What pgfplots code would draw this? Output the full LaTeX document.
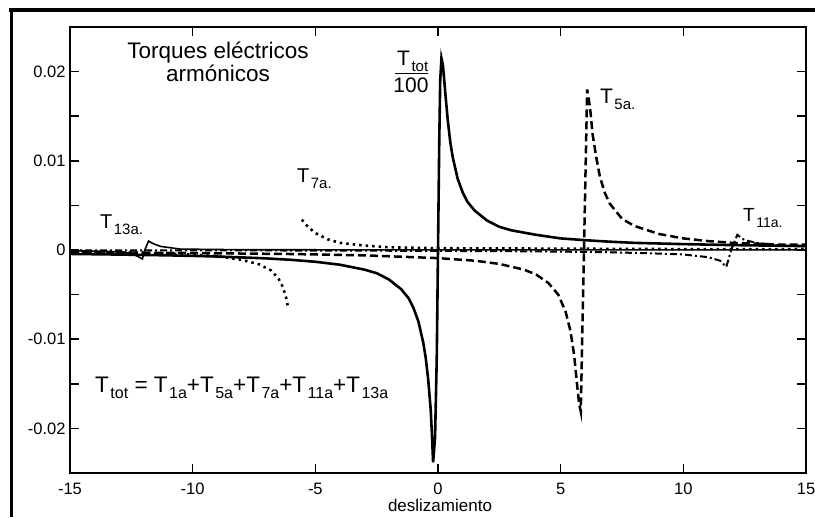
\documentclass[border=0pt]{standalone}
\usepackage{fontspec}
\setmainfont{Liberation Sans}
\usepackage{pgfplots}
\pgfplotsset{compat=1.18}
\usetikzlibrary{calc}

% subscripted label, e.g. \Tsub{19}{14}{5a.}
\newcommand{\Tsub}[3]{{\fontsize{#1}{#1}\selectfont T\kern1.5pt\raisebox{-6pt}{\fontsize{#2}{#2}\selectfont #3}}}

\begin{document}
\begin{tikzpicture}
\begin{axis}[
    scale only axis,
    width=736pt, height=446pt,
    xmin=-15, xmax=15,
    ymin=-0.025, ymax=0.025,
    scaled y ticks=false,
    xtick={-15,-10,-5,0,5,10,15},
    xticklabels={-15,-10,-5,0,5,10,15},
    ytick={-0.02,-0.01,0,0.01,0.02},
    yticklabels={-0.02,-0.01,0,0.01,0.02},
    minor ytick={-0.015,-0.005,0.005,0.015},
    /pgf/number format/assume math mode=true,
    tick align=inside,
    major tick length=9pt,
    minor tick length=9pt,
    every tick/.style={black, line width=1.6pt},
    axis line style={line width=2pt},
    xticklabel style={font=\fontsize{16.5}{19}\selectfont, anchor=base, yshift=-21pt},
    yticklabel style={font=\fontsize{16.5}{19}\selectfont, anchor=east, xshift=-1pt},
    xlabel={deslizamiento},
    xlabel style={font=\fontsize{17}{20}\selectfont, at={(axis description cs:0.5,0)}, anchor=base, yshift=-38pt, xshift=2pt},
    unbounded coords=jump,
]
\coordinate (SW) at (rel axis cs:0,0);
\coordinate (NE) at (rel axis cs:1,1);

% T13a
\addplot[black, line width=1.6pt] coordinates {
(-15,-0.00005) (-13,-0.0002) (-12.5,-0.0004) (-12.25,-0.0007) (-12.05,-0.001)
(-11.95,0) (-11.8,0.001) (-11.6,0.0007) (-11.3,0.0004) (-10.5,0.0001)
(-8,0.00003) (0,0.00001) (15,0.00001)
};

% T11a
\addplot[black, line width=2pt, dash pattern=on 7pt off 3pt on 2pt off 3pt] coordinates {
(-15,-0.00003) (-5,-0.00006) (0,-0.0001) (4,-0.00015) (7,-0.00025) (9,-0.0004)
(10,-0.0005) (11,-0.0008) (11.5,-0.0012) (11.75,-0.0019) (11.95,0)
(12.2,0.0017) (12.5,0.0011) (13,0.0008) (14,0.0005) (15,0.0004)
};

% T7a
\addplot[black, line width=2.6pt, dash pattern=on 2.5pt off 4pt] coordinates {
(-15,-0.0002) (-12,-0.0003) (-10,-0.0005) (-9,-0.0007) (-8,-0.0011) (-7.3,-0.0016)
(-6.8,-0.0023) (-6.5,-0.0032) (-6.35,-0.004) (-6.2,-0.0052) (-6.1,-0.0066)
(-5.8,nan)
(-5.55,0.0034) (-5.3,0.0026) (-5,0.0019) (-4.5,0.0012) (-4,0.0008) (-3,0.0005)
(-2,0.0003) (0,0.0002) (5,0.00015) (10,0.0001) (15,0.0001)
};

% T5a
\addplot[black, line width=2.5pt, dash pattern=on 8pt off 4pt] coordinates {
(-15,-0.00026) (-10,-0.00034) (-6,-0.00045) (-3,-0.0006) (0,-0.00091) (1.5,-0.0012)
(2.5,-0.00156) (3.5,-0.0022) (4,-0.00275) (4.5,-0.0037) (4.9,-0.005) (5.2,-0.0069)
(5.4,-0.0091) (5.55,-0.0118) (5.65,-0.0146) (5.75,-0.0172) (5.82,-0.0181)
(5.95,0) (6.08,0.018) (6.2,0.0159) (6.3,0.013) (6.45,0.0104) (6.6,0.0082)
(6.8,0.0064) (7,0.0052) (7.5,0.0035) (8,0.0027) (9,0.0018) (10,0.0013) (11,0.001)
(12,0.0008) (13,0.0007) (14,0.0006) (15,0.0006)
};

% Ttot/100
\addplot[black, line width=2.6pt] coordinates {
(-15,-0.00044) (-13,-0.00051) (-11,-0.0006) (-10,-0.00066) (-9,-0.00073) (-8,-0.00083)
(-7,-0.00094) (-6,-0.0011) (-5,-0.00132) (-4,-0.00165) (-3,-0.0022) (-2.5,-0.0026)
(-2,-0.0033) (-1.5,-0.0044) (-1.2,-0.0054) (-1,-0.0065) (-0.8,-0.008) (-0.6,-0.0104)
(-0.5,-0.0121) (-0.4,-0.0145) (-0.3,-0.0178) (-0.25,-0.0205) (-0.2,-0.0238)
(-0.12,-0.021) (-0.05,-0.012) (0,0) (0.05,0.012) (0.09,0.019) (0.14,0.0215)
(0.2,0.0207) (0.25,0.0192) (0.3,0.0175) (0.4,0.0145) (0.5,0.0121) (0.6,0.0104)
(0.8,0.008) (1,0.0065) (1.2,0.0054) (1.5,0.0044) (2,0.0033) (2.5,0.0026) (3,0.0022)
(4,0.0017) (5,0.0013) (6,0.0011) (7,0.00093) (8,0.0008) (10,0.00066) (12,0.00055)
(15,0.00044)
};

% annotations
\node[anchor=base, font=\fontsize{22.5}{26}\selectfont] at (axis cs:-8.97,0.02146) {Torques eléctricos};
\node[anchor=base, font=\fontsize{22.5}{26}\selectfont] at (axis cs:-8.97,0.01888) {armónicos};

\node[anchor=base west, inner sep=0pt] at (axis cs:-1.67,0.02067) {\Tsub{21}{15}{tot}};
\draw[line width=1.6pt] (axis cs:-1.75,0.01978) -- (axis cs:-0.41,0.01978);
\node[anchor=base, inner sep=0pt, font=\fontsize{21}{24}\selectfont] at (axis cs:-1.10,0.01765) {100};

\node[anchor=base west, inner sep=0pt] at (axis cs:6.60,0.01641) {\Tsub{21}{15}{5a.}};
\node[anchor=base west, inner sep=0pt] at (axis cs:-5.75,0.00756) {\Tsub{20}{15}{7a.}};
\node[anchor=base west, inner sep=0pt] at (axis cs:-13.78,0.00241) {\Tsub{20}{15}{13a.}};
\node[anchor=base west, inner sep=0pt] at (axis cs:12.43,0.00319) {\Tsub{19}{14}{11a.}};

\node[anchor=base west, inner sep=0pt] at (axis cs:-13.98,-0.01593) {%
\Tsub{22.5}{16}{tot}{\fontsize{22.5}{22}\selectfont\ = }%
\Tsub{22.5}{16}{1a}{\fontsize{22.5}{22}\selectfont +}%
\Tsub{22.5}{16}{5a}{\fontsize{22.5}{22}\selectfont +}%
\Tsub{22.5}{16}{7a}{\fontsize{22.5}{22}\selectfont +}%
\Tsub{22.5}{16}{11a}{\fontsize{22.5}{22}\selectfont +}%
\Tsub{22.5}{16}{13a}};
\end{axis}

% outer frame of the scanned figure
\draw[line width=4pt] ($(SW|-NE)+(-60.5pt,17pt)$) -- ($(NE)+(9pt,17pt)$);
\draw[line width=3.5pt] ($(SW|-NE)+(-58.5pt,19pt)$) -- ($(SW)+(-58.5pt,-44pt)$);

\pgfresetboundingbox
\useasboundingbox ($(SW)+(-70pt,-44pt)$) rectangle ($(NE)+(9pt,27pt)$);
\end{tikzpicture}
\end{document}
